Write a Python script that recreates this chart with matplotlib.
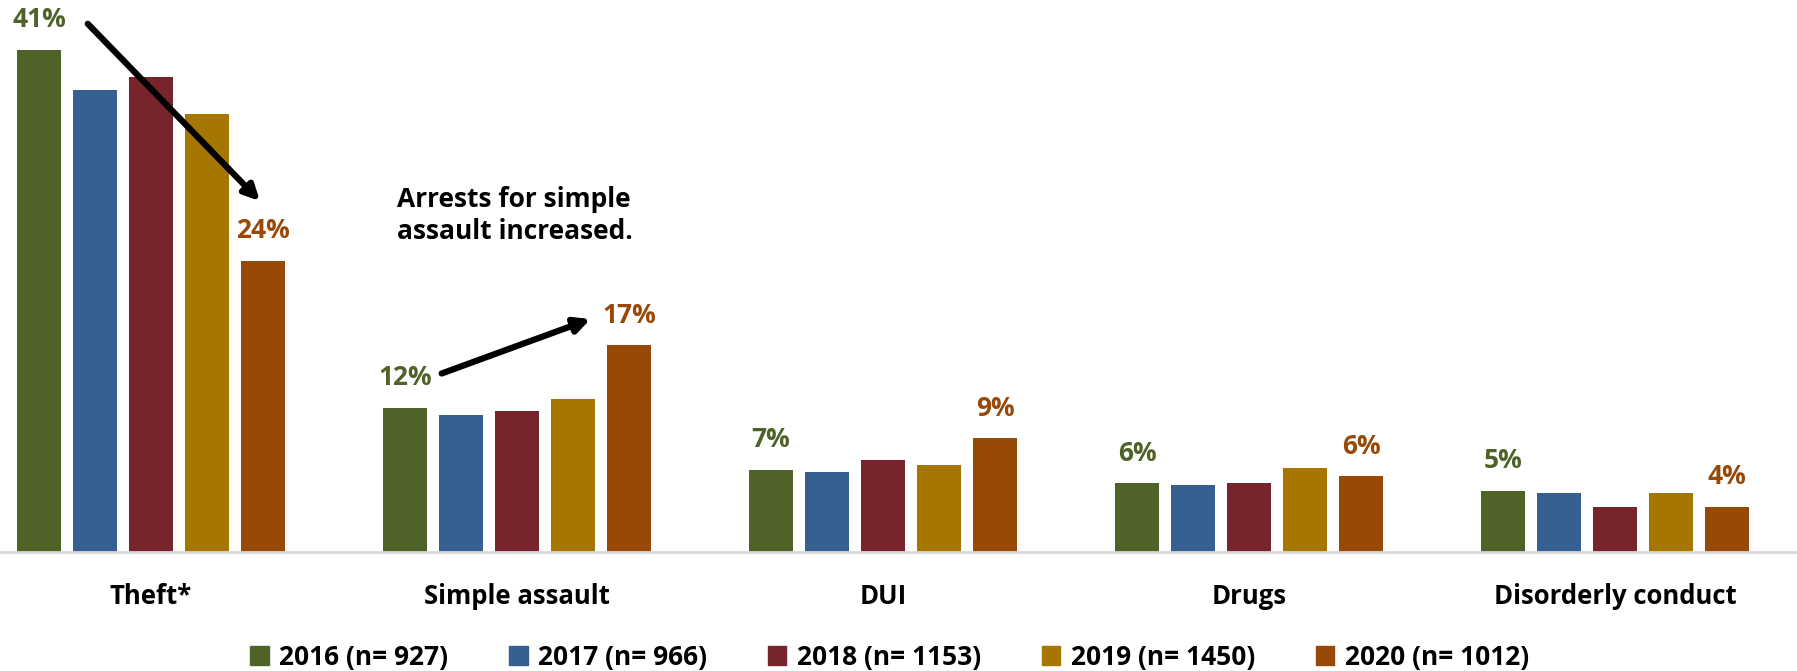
import numpy as np
from matplotlib import pyplot as plt
from matplotlib.patches import Patch

plt.rcParams['font.family'] = ['Open Sans', 'DejaVu Sans']
plt.rcParams['font.weight'] = 'bold'

categories = ["Theft*", "Simple assault", "DUI", "Drugs", "Disorderly conduct"]
years = ["2016 (n= 927)", "2017 (n= 966)", "2018 (n= 1153)", "2019 (n= 1450)", "2020 (n= 1012)"]
v2016 = [41.0, 11.8, 6.7, 5.6, 5.0]
v2017 = [37.7, 11.2, 6.5, 5.5, 4.8]
v2018 = [38.8, 11.5, 7.5, 5.6, 3.7]
v2019 = [35.8, 12.5, 7.1, 6.9, 4.8]
v2020 = [23.8, 16.9, 9.3, 6.2, 3.7]
colors = ["#4F6228", "#366092", "#77242D", "#A57700", "#984807"]
labels_2016 = ["41%", "12%", "7%", "6%", "5%"]
labels_2020 = ["24%", "17%", "9%", "6%", "4%"]

series = [v2016, v2017, v2018, v2019, v2020]

fig = plt.figure(figsize=(17.97, 6.71), dpi=100)
ax = fig.add_axes([0, 119 / 671, 1, 551 / 671])

x = np.arange(len(categories))
step = 56 / 366
width = 44 / 366
for j, vals in enumerate(series):
    ax.bar(x + (j - 2) * step, vals, width, color=colors[j], label=years[j])

for i in range(len(categories)):
    ax.annotate(labels_2016[i], (x[i] - 2 * step, v2016[i]), xytext=(0, 21.6),
                textcoords='offset points', ha='center', va='center',
                fontsize=19, fontweight='bold', color=colors[0])
    ax.annotate(labels_2020[i], (x[i] + 2 * step, v2020[i]), xytext=(0, 21.6),
                textcoords='offset points', ha='center', va='center',
                fontsize=19, fontweight='bold', color=colors[4])

# trend arrows
ax.annotate("", xy=(0.303, 28.5), xytext=(-0.178, 43.3),
            arrowprops=dict(arrowstyle='-|>,head_length=0.9,head_width=0.45', lw=4.5, color='black'))
ax.annotate("", xy=(1.208, 19.1), xytext=(0.787, 14.5),
            arrowprops=dict(arrowstyle='-|>,head_length=0.9,head_width=0.45', lw=4.5, color='black'))
ax.text(0.672, 27.5, "Arrests for simple\nassault increased.", ha='left', va='center',
        fontsize=19, fontweight='bold', linespacing=1.25)

ax.set_xlim(-151 / 366, (1797 - 151) / 366)
ax.set_ylim(0, 45)
ax.set_xticks(x)
ax.set_xticklabels(categories, fontsize=18.5, fontweight='bold')
ax.tick_params(axis='x', length=0, pad=22)
ax.set_yticks([])
for s in ['top', 'left', 'right']:
    ax.spines[s].set_visible(False)
ax.spines['bottom'].set_color('#d9d9d9')
ax.spines['bottom'].set_linewidth(2)

handles = [Patch(color=colors[j], label=years[j]) for j in range(5)]
fig.legend(handles=handles, loc='center', bbox_to_anchor=(0.495, 14 / 671), ncol=5,
           frameon=False, fontsize=19, handlelength=0.7, handleheight=0.7,
           handletextpad=0.4, columnspacing=2.3)

plt.savefig("out.png", dpi=100)
